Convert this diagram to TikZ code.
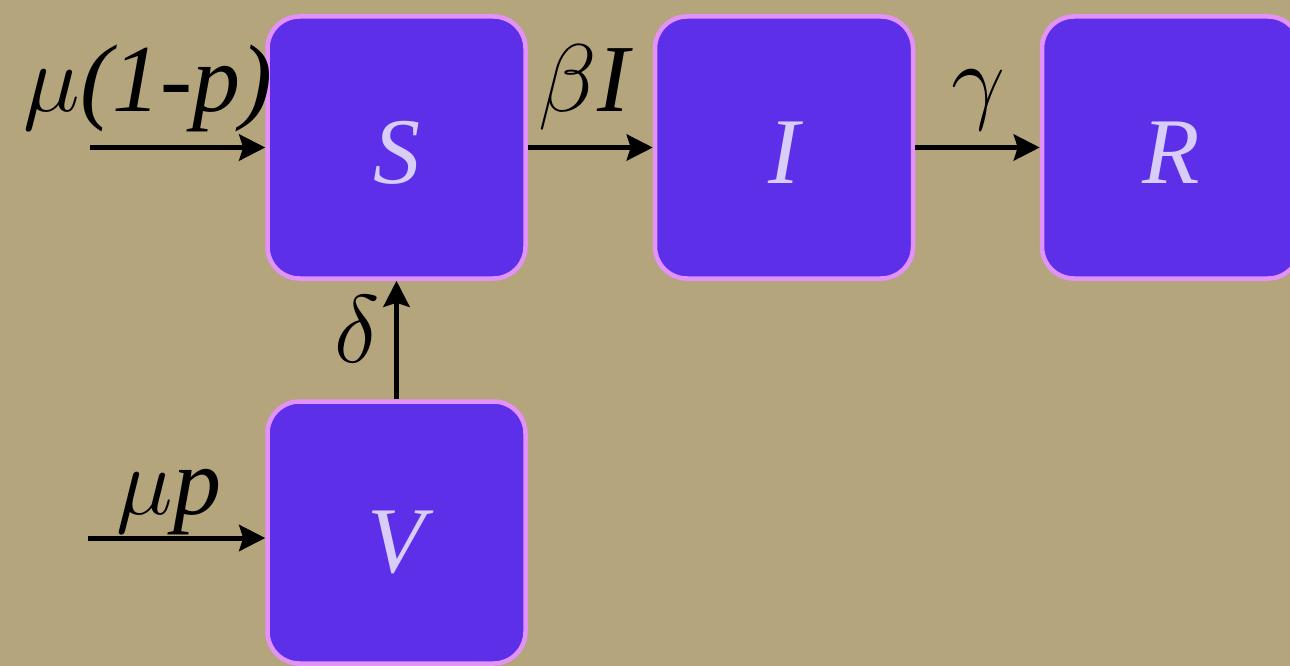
\RequirePackage{fix-cm}
\documentclass[tikz,border=0pt]{standalone}
\usepackage{fontspec}
\setmainfont{Liberation Serif}
\usetikzlibrary{arrows.meta}
\definecolor{bg}{RGB}{181,165,124}
\definecolor{boxfill}{RGB}{93,47,232}
\definecolor{boxedge}{RGB}{226,146,250}
\definecolor{boxtext}{RGB}{216,204,248}
\tikzset{
  comp/.style={draw=boxedge, fill=boxfill, line width=4.5pt, rounded corners=32pt,
    minimum width=258pt, minimum height=262pt, inner sep=0pt,
    text height=72pt, text depth=0pt,
    text=boxtext, font=\fontsize{94}{98}\selectfont\itshape},
  flow/.style={line width=5pt, -{Stealth[length=26pt,width=26pt,inset=4pt]}},
  rate/.style={inner sep=0pt, font=\fontsize{96}{100}\selectfont\itshape}
}
\begin{document}
\begin{tikzpicture}[x=1pt,y=1pt]
\useasboundingbox (0,0) rectangle (1290,-666);
\fill[bg] (0,0) rectangle (1290,-666);
\clip (0,0) rectangle (1290,-666);
\node[comp] (S) at (396.5,-147.5) {S};
\node[comp] (I) at (784,-147.5) {I};
\node[comp] (R) at (1171,-147.5) {R};
\node[comp, text height=80pt] (V) at (396.5,-532.5) {V};
\coordinate (in1) at (90,-147.5);
\coordinate (in2) at (88,-538);
\draw[flow] (in1) -- (S.west);
\draw[flow] (S.east) -- (I.west);
\draw[flow] (I.east) -- (R.west);
\draw[flow] (V.north) -- (S.south);
\draw[flow] (in2) -- (in2 -| V.west);
% Latin parts first
\node[rate, anchor=base west] (l1b) at (80,-112) {(1-p)};
\node[rate, anchor=base west] (l2b) at (597,-112) {I};
\node[rate, anchor=base west] (l5b) at (173,-514) {p};
% Greek parts
\node[rate, anchor=base east] (l1a) at (l1b.base west) {$\mu$};
\node[rate, anchor=base east] (l2a) at (l2b.base west) {$\beta$};
\node[rate, anchor=base east] (l5a) at (l5b.base west) {$\mu$};
\node[rate, anchor=base] (l3) at (978,-112) {$\gamma$};
\node[rate, anchor=base] (l4) at (357,-362) {$\delta$};
\end{tikzpicture}
\end{document}
